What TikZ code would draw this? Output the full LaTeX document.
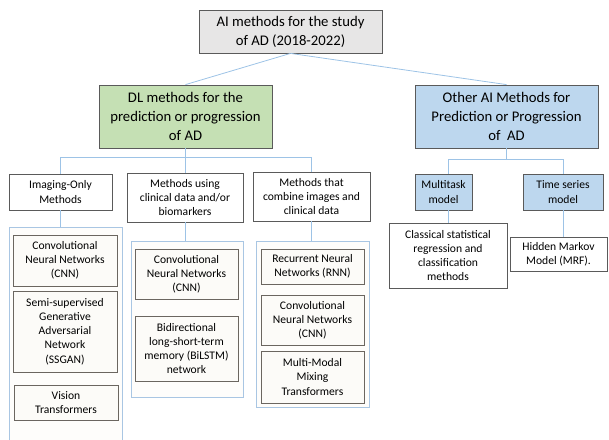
\documentclass[tikz,border=0pt]{standalone}
\usepackage{fontspec}
\setmainfont{Carlito}
\usetikzlibrary{positioning}

\begin{document}
\begin{tikzpicture}[x=1pt, y=-1pt,
    box/.style={draw=borderColour, line width=0.8pt, align=center, inner sep=0pt},
    wh/.style 2 args={minimum width=#1pt, minimum height=#2pt},
    big/.style={font=\fontsize{14.7}{19}\selectfont},
    small/.style={font=\fontsize{11.6}{14.2}\selectfont},
    item/.style={box, small, draw=itemBorder, fill=itemFill},
    group/.style={draw=groupColour, line width=0.8pt, fill=groupFill, inner sep=0pt},
    link/.style={draw=linkColour, line width=0.8pt}]
    % Define colours
    \definecolor{borderColour}{HTML}{5A5A5A}
    \definecolor{topFill}{HTML}{E7E6E6}
    \definecolor{dlFill}{HTML}{C5E0B4}
    \definecolor{otherFill}{HTML}{BDD7EE}
    \definecolor{itemBorder}{HTML}{6B6660}
    \definecolor{itemFill}{HTML}{FCFBF8}
    \definecolor{groupColour}{HTML}{A9C6E3}
    \definecolor{groupFill}{HTML}{FEFDFB}
    \definecolor{linkColour}{HTML}{9DC3E6}

  \useasboundingbox (0,0) rectangle (609,439);

  % Top level
  \node[box, big, fill=topFill, wh={183}{43}] (top) at (290.5,31.5) {AI methods for the study\\of AD (2018-2022)};
  \node[box, big, fill=dlFill, wh={173}{63}] (dl) at (185.5,116.5) {DL methods for the\\prediction or progression\\of AD};
  \node[box, big, fill=otherFill, wh={183}{63}] (other) at (506.5,116.5) {Other AI Methods for\\Prediction or Progression\\of~ AD};

  % DL branches
  \node[box, small, wh={103}{36}] (img) at (60.5,192) {Imaging-Only\\Methods};
  \node[box, small, wh={116}{49}] (clin) at (185,197.5) {Methods using\\clinical data and/or\\biomarkers};
  \node[box, small, wh={117}{49}] (comb) at (311.5,196.5) {Methods that\\combine images and\\clinical data};

  % Other AI branches
  \node[box, small, fill=otherFill, wh={57}{36}] (multi) at (443.5,192) {Multitask\\model};
  \node[box, small, fill=otherFill, wh={80}{36}] (ts) at (563,192) {Time series\\model};
  \node[box, small, wh={118}{65}] (classical) at (448,255.5) {Classical statistical\\regression and\\classification\\methods};
  \node[box, small, wh={97}{34}] (hmm) at (558.5,254) {Hidden Markov\\Model (MRF).};

  % Groups of methods
  \node[group, wh={113}{216}] (g1) at (65.5,335) {};
  \node[group, wh={112}{156}] (g2) at (187,319) {};
  \node[group, wh={113}{166}] (g3) at (312.5,324) {};

  % Imaging-only methods
  \node[item, wh={104}{51}] (g1a) at (65,260.5) {Convolutional\\Neural Networks\\(CNN)};
  \node[item, wh={104}{81}] (g1b) at (65,331.5) {Semi-supervised\\Generative\\Adversarial\\Network\\(SSGAN)};
  \node[item, wh={104}{35}] (g1c) at (66,402.5) {Vision\\Transformers};

  % Clinical data methods
  \node[item, wh={103}{50}] (g2a) at (186.5,274) {Convolutional\\Neural Networks\\(CNN)};
  \node[item, wh={103}{65}] (g2b) at (186.5,348.5) {Bidirectional\\long-short-term\\memory (BiLSTM)\\network};

  % Combined methods
  \node[item, wh={103}{35}] (g3a) at (312.5,266.5) {Recurrent Neural\\Networks (RNN)};
  \node[item, wh={103}{50}] (g3b) at (312.5,320) {Convolutional\\Neural Networks\\(CNN)};
  \node[item, wh={103}{52}] (g3c) at (312.5,377) {Multi-Modal\\Mixing\\Transformers};

  % Connectors
  \draw[link] (top.south) -- (dl.north);
  \draw[link] (top.south) -- (other.north);
  \draw[link] (dl.south) -- ++(0,9) -| (img.north);
  \draw[link] (dl.south) -- ++(0,9) -| (comb.north);
  \draw[link] (dl.south) -- (dl.south |- clin.north);
  \draw[link] (img.south) -- (img.south |- g1.north);
  \draw[link] (clin.south) -- (clin.south |- g2.north);
  \draw[link] (comb.south) -- (comb.south |- g3.north);
  \draw[link] (other.south) -- ++(0,11) -| (classical.north |- multi.north);
  \draw[link] (other.south) -- ++(0,11) -| (ts.north);
  \draw[link] (classical.north |- multi.south) -- (classical.north);
  \draw[link] (ts.south) -- (ts.south |- hmm.north);

\end{tikzpicture}
\end{document}
